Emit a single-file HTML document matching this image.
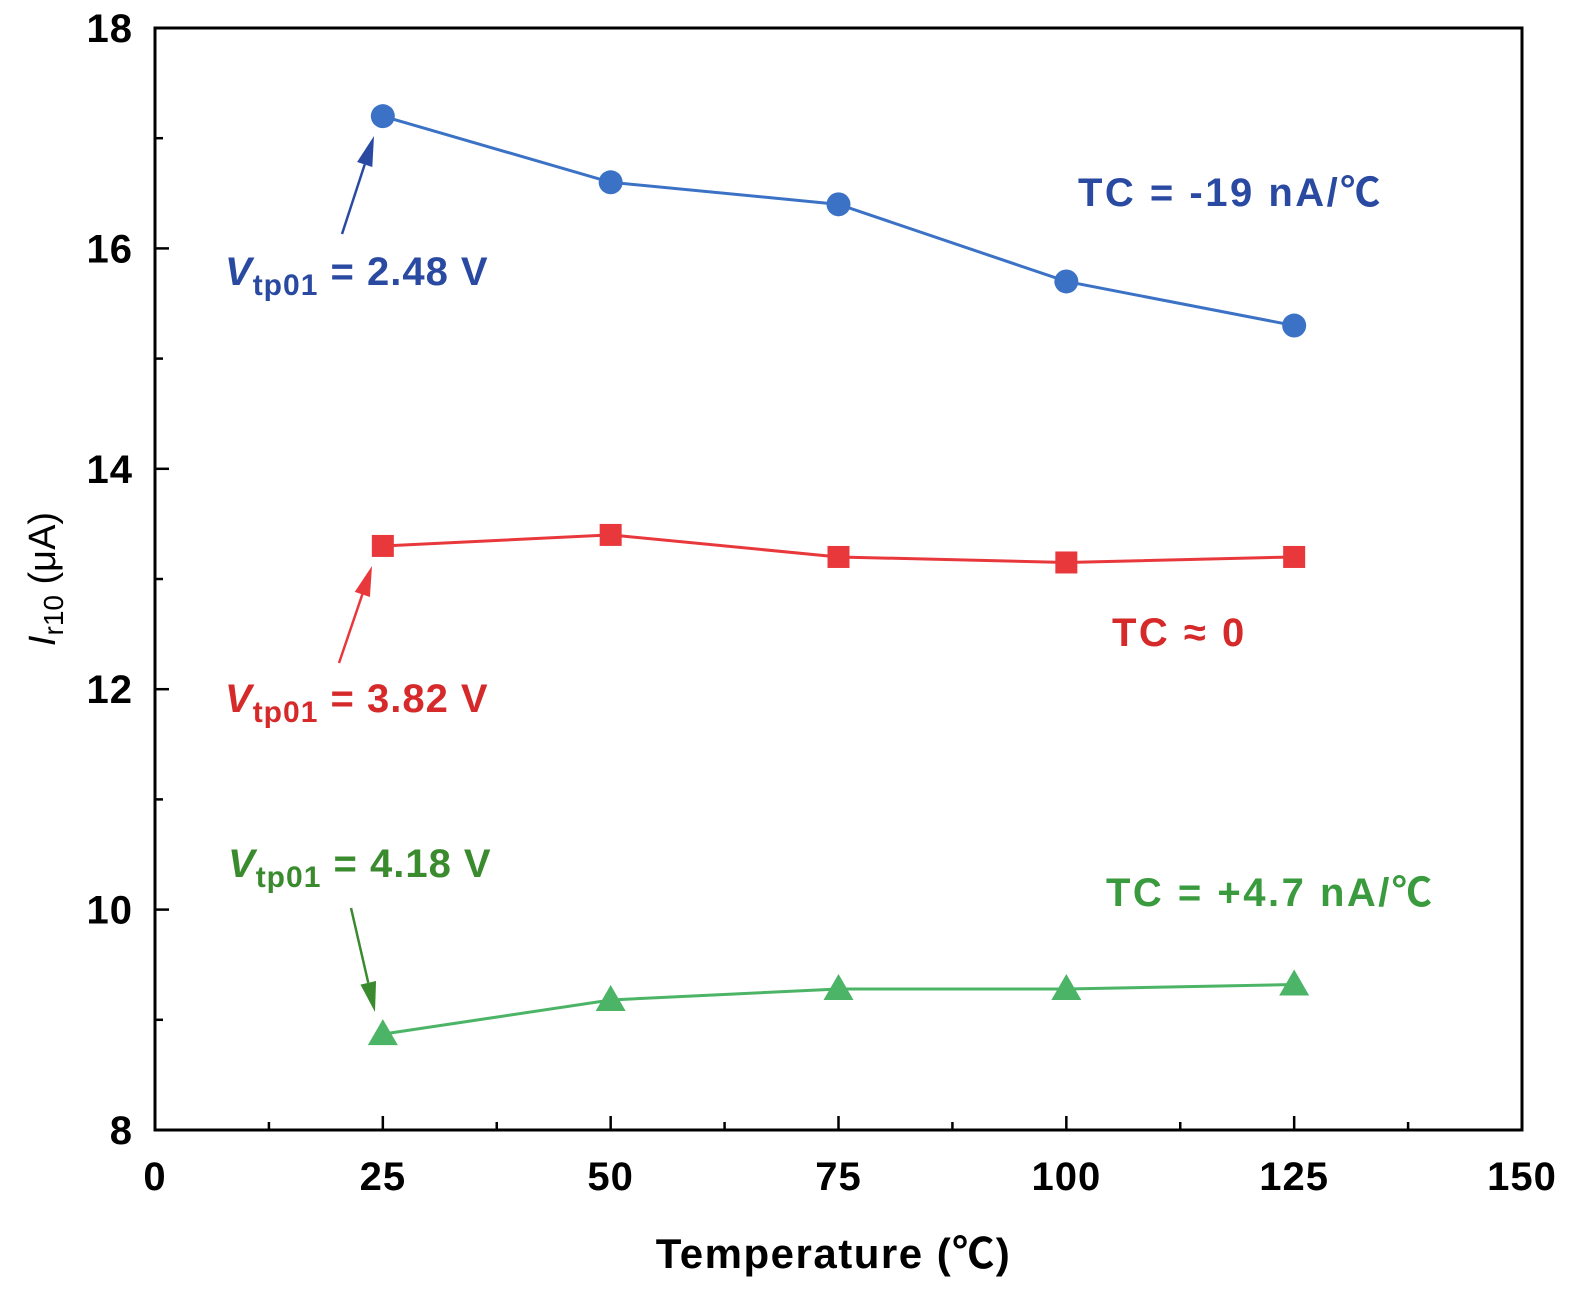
<!DOCTYPE html>
<html><head><meta charset="utf-8"><style>
body{margin:0;background:#fff}
svg text{font-family:"Liberation Sans","Noto Sans CJK SC",sans-serif;font-weight:bold}
</style></head><body>
<svg id="chart" width="1575" height="1289" xmlns="http://www.w3.org/2000/svg"></svg>
<script>
const temps=[25,50,75,100,125];
const blueVals=[17.2,16.6,16.4,15.7,15.3];
const redVals=[13.3,13.4,13.2,13.15,13.2];
const greenVals=[8.87,9.18,9.28,9.28,9.32];
const xTicks=[0,25,50,75,100,125,150];
const yTicks=[8,10,12,14,16,18];
const L=155,R=1522,T=28,B=1130;
const sx=v=>L+(v-0)/(150-0)*(R-L);
const sy=v=>B-(v-8)/(18-8)*(B-T);
const svg=document.getElementById('chart');
const NS='http://www.w3.org/2000/svg';
function mk(tag,attrs,parent){const e=document.createElementNS(NS,tag);for(const k in attrs)e.setAttribute(k,attrs[k]);(parent||svg).appendChild(e);return e;}
const frame=mk('rect',{x:L,y:T,width:R-L,height:B-T,fill:'none',stroke:'#000','stroke-width':3});


for(let v=0;v<=150;v+=12.5){const major=v%25===0;const t=mk('line',{x1:sx(v),x2:sx(v),y1:B,y2:B-(major?14:8),stroke:'#000','stroke-width':2.5});

}
xTicks.forEach(v=>{const t=mk('text',{x:sx(v),y:B+60,'text-anchor':'middle','font-size':40,'letter-spacing':1});t.textContent=v;

});
for(let v=8;v<=18;v+=1){const major=v%2===0;const t=mk('line',{x1:L,x2:L+(major?14:8),y1:sy(v),y2:sy(v),stroke:'#000','stroke-width':2.5});

}
yTicks.forEach(v=>{const t=mk('text',{x:L-22,y:sy(v)+14,'text-anchor':'end','font-size':40,'letter-spacing':1});t.textContent=v;

});
const xt=mk('text',{x:(L+R)/2-5,y:1268,'text-anchor':'middle','font-size':42,'letter-spacing':1.5});xt.textContent='Temperature (℃)';


const yt=mk('text',{transform:'translate(55,579) rotate(-90)','text-anchor':'middle','font-size':38,'font-weight':'normal'});
yt.innerHTML='<tspan font-style="italic" font-weight="normal">I</tspan><tspan font-size="28" dy="8" font-weight="normal">r10</tspan><tspan dy="-8" font-weight="normal"> (μA)</tspan>';


function series(vals,color,marker,name){
  const pl=mk('polyline',{points:temps.map((t,i)=>sx(t)+','+sy(vals[i])).join(' '),fill:'none',stroke:color,'stroke-width':3});
  
  
  temps.forEach((t,i)=>{const x=sx(t),y=sy(vals[i]);let m;
    if(marker==='c')m=mk('circle',{cx:x,cy:y,r:12,fill:color});
    else if(marker==='s')m=mk('rect',{x:x-11,y:y-11,width:22,height:22,fill:color});
    else m=mk('polygon',{points:`${x},${y-15} ${x-15},${y+11} ${x+15},${y+11}`,fill:color});
    
    });
}
series(blueVals,'#3b72c6','c','blue-series');
series(redVals,'#e8383c','s','red-series');
series(greenVals,'#4cb466','t','green-series');
function label(x,y,txt,color,name,ls){const t=mk('text',{x:x,y:y,'font-size':40,fill:color,'letter-spacing':ls||0});t.innerHTML=txt;

}
const vl=v=>'<tspan font-style="italic">V</tspan><tspan font-size="30" dy="10">tp01</tspan><tspan dy="-10"> = '+v+' V</tspan>';
label(225,285,vl('2.48'),'#2a4aa2','label-vtp-blue',1);
label(225,712,vl('3.82'),'#d62a2a','label-vtp-red',1);
label(228,877,vl('4.18'),'#3a8a2e','label-vtp-green',1);
label(1078,206,'TC = -19 nA/℃','#2a4aa2','tc-blue',2.5);
label(1112,646,'TC ≈ 0','#d62a2a','tc-red',2.5);
label(1106,906,'TC = +4.7 nA/℃','#3a9a3e','tc-green',2.5);
function arrow(x1,y1,x2,y2,color,name){const dx=x2-x1,dy=y2-y1,l=Math.hypot(dx,dy),ux=dx/l,uy=dy/l;
 const bx=x2-ux*30,by=y2-uy*30;
 const ln=mk('line',{x1:x1,y1:y1,x2:bx,y2:by,stroke:color,'stroke-width':2.5});
 
 
 const p=mk('polygon',{points:`${x2},${y2} ${bx-uy*8},${by+ux*8} ${bx+uy*8},${by-ux*8}`,fill:color});
 
 }
arrow(342,234,374,136,'#2a4aa2','arrow-blue');
arrow(339,663,372,566,'#e8383c','arrow-red');
arrow(351,908,375,1012,'#3a8a2e','arrow-green');
</script>
</body></html>
